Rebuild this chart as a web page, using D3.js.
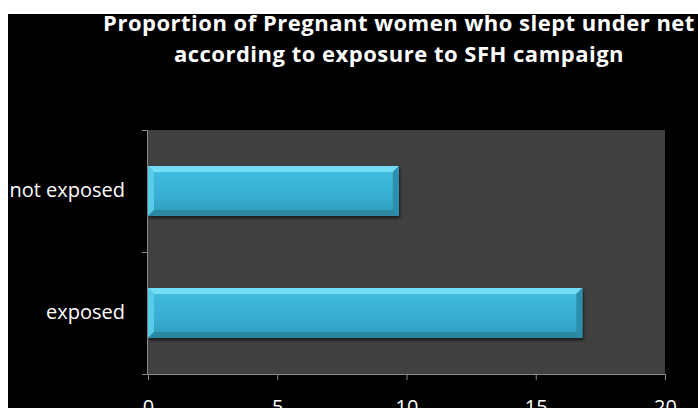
<!DOCTYPE html>
<html>
<head>
<meta charset="utf-8">
<script src="https://cdn.jsdelivr.net/npm/d3@7"></script>
<style>
  html, body { margin: 0; padding: 0; background: #fff; }
  svg { display: block; }
</style>
</head>
<body>
<div id="chart"></div>
<script>
const categories = ['not exposed', 'exposed']
const values = [9.7, 16.8]
const xTicks = [0, 5, 10, 15, 20]
const titleLines = [
    'Proportion of Pregnant women who slept under net',
    'according to exposure to SFH campaign'
]

const width = 698
const height = 408
const plot = { left: 148, right: 665, top: 130, bottom: 374 }
const font = '"Open Sans", Lato, sans-serif'

const svg = d3.select('#chart').append('svg')
    .attr('width', width)
    .attr('height', height)

// black slide background, small white margin top/left
svg.append('rect')
    .attr('x', 8).attr('y', 14)
    .attr('width', width - 8).attr('height', height - 14)
    .attr('fill', '#000')

const defs = svg.append('defs')
const grad = defs.append('linearGradient')
    .attr('id', 'barGrad')
    .attr('x1', 0).attr('y1', 0).attr('x2', 0).attr('y2', 1)
grad.append('stop').attr('offset', '0%').attr('stop-color', '#42bee1')
grad.append('stop').attr('offset', '60%').attr('stop-color', '#37aed3')
grad.append('stop').attr('offset', '100%').attr('stop-color', '#2f9bbb')

const shadow = defs.append('filter').attr('id', 'shadow')
    .attr('x', '-5%').attr('y', '-20%').attr('width', '115%').attr('height', '150%')
shadow.append('feDropShadow')
    .attr('dx', 1).attr('dy', 2).attr('stdDeviation', 1.5)
    .attr('flood-color', '#000').attr('flood-opacity', 0.7)

const x = d3.scaleLinear()
    .domain([0, 20])
    .range([plot.left, plot.right])

const y = d3.scaleBand()
    .domain(categories)
    .range([plot.top, plot.bottom])
    .paddingInner(0.59)
    .paddingOuter(0.295)

// plot area
svg.append('rect')
    .attr('x', plot.left).attr('y', plot.top)
    .attr('width', plot.right - plot.left).attr('height', plot.bottom - plot.top)
    .attr('fill', '#404040')

// x axis
const xAxis = svg.append('g')
    .attr('transform', `translate(0, ${plot.bottom})`)
    .call(d3.axisBottom(x).tickValues(xTicks).tickSize(6).tickSizeOuter(0).tickPadding(20))
xAxis.select('.domain').attr('stroke', '#8a8a8a').attr('d', `M${plot.left - 6},0.5H${plot.right}`)
xAxis.selectAll('.tick line').attr('stroke', '#8a8a8a')
xAxis.selectAll('.tick text')
    .attr('fill', '#fff')
    .attr('font-family', font)
    .attr('font-size', 20)

// y axis line and category boundary ticks
const yG = svg.append('g')
yG.append('line')
    .attr('x1', plot.left - 0.5).attr('x2', plot.left - 0.5)
    .attr('y1', plot.top).attr('y2', plot.bottom)
    .attr('stroke', '#8a8a8a')
const bounds = d3.range(categories.length + 1).map(i => plot.top + i * y.step())
yG.selectAll('line.tk')
    .data(bounds)
    .join('line')
    .attr('class', 'tk')
    .attr('x1', plot.left - 6).attr('x2', plot.left)
    .attr('y1', d => Math.round(d) + 0.5).attr('y2', d => Math.round(d) + 0.5)
    .attr('stroke', '#8a8a8a')
yG.selectAll('text')
    .data(categories)
    .join('text')
    .attr('x', 125)
    .attr('y', d => y(d) + y.bandwidth() / 2)
    .attr('dy', '0.3em')
    .attr('text-anchor', 'end')
    .attr('fill', '#fff')
    .attr('font-family', font)
    .attr('font-size', 20)
    .text(d => d)

// bars with bevel
const bev = 6
const bars = svg.append('g').selectAll('g')
    .data(categories.map((c, i) => ({ cat: c, value: values[i] })))
    .join('g')

bars.append('rect')
    .attr('x', x(0))
    .attr('y', d => y(d.cat))
    .attr('width', d => x(d.value) - x(0))
    .attr('height', y.bandwidth())
    .attr('fill', 'url(#barGrad)')
    .attr('filter', 'url(#shadow)')

function bevel(d, side) {
    const x0 = x(0), x1 = x(d.value), y0 = y(d.cat), y1 = y0 + y.bandwidth()
    if (side === 'top') return `M${x0},${y0}L${x1},${y0}L${x1 - bev},${y0 + bev}L${x0 + bev},${y0 + bev}Z`
    if (side === 'bottom') return `M${x0},${y1}L${x1},${y1}L${x1 - bev},${y1 - bev}L${x0 + bev},${y1 - bev}Z`
    if (side === 'left') return `M${x0},${y0}L${x0 + bev},${y0 + bev}L${x0 + bev},${y1 - bev}L${x0},${y1}Z`
    return `M${x1},${y0}L${x1 - bev},${y0 + bev}L${x1 - bev},${y1 - bev}L${x1},${y1}Z`
}
const bevelColors = { top: '#72ddf5', left: '#55cdea', bottom: '#2b87a2', right: '#2c8fad' }
Object.keys(bevelColors).forEach(side => {
    bars.append('path')
        .attr('d', d => bevel(d, side))
        .attr('fill', bevelColors[side])
})

// title
svg.append('g').selectAll('text')
    .data(titleLines)
    .join('text')
    .attr('x', 399)
    .attr('y', (d, i) => 31 + i * 31)
    .attr('text-anchor', 'middle')
    .attr('fill', '#fff')
    .attr('font-family', font)
    .attr('font-weight', 'bold')
    .attr('font-size', 22)
    .attr('letter-spacing', 0.5)
    .text(d => d)
</script>
</body>
</html>
